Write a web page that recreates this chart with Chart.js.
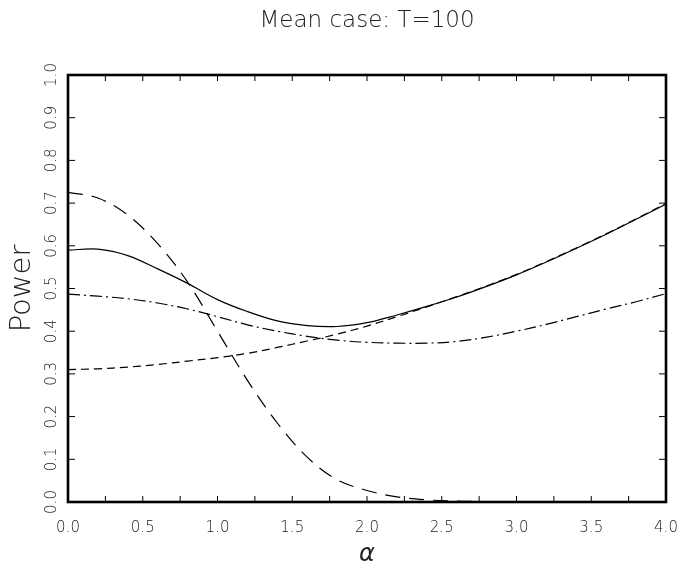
<!DOCTYPE html>
<html><head><meta charset="utf-8">
<script src="https://cdn.jsdelivr.net/npm/chart.js@4.4.1/dist/chart.umd.min.js"></script>
<style>html,body{margin:0;padding:0;background:#fff}#wrap{width:678px;height:575px}</style>
</head><body><div id="wrap"><canvas id="c" width="678" height="575"></canvas></div>
<script>
const chartTitle = 'Mean case: T=100';
const xAxisTitle = 'α';
const yAxisTitle = 'Power';
const alphaValues = [0.0,0.2,0.4,0.6,0.8,1.0,1.2,1.4,1.6,1.8,2.0,2.2,2.4,2.6,2.8,3.0,3.2,3.4,3.6,3.8,4.0];
const solidPower = [0.590,0.592,0.577,0.546,0.512,0.474,0.446,0.424,0.413,0.411,0.420,0.438,0.458,0.480,0.505,0.532,0.562,0.594,0.627,0.662,0.698];
const shortDashPower = [0.310,0.312,0.316,0.322,0.330,0.338,0.348,0.362,0.377,0.393,0.412,0.434,0.457,0.481,0.506,0.533,0.563,0.595,0.628,0.663,0.699];
const dashDotPower = [0.487,0.482,0.476,0.466,0.452,0.434,0.415,0.400,0.388,0.379,0.374,0.372,0.372,0.376,0.386,0.400,0.416,0.434,0.452,0.469,0.488];
const longDashPower = [0.725,0.712,0.672,0.605,0.515,0.400,0.285,0.185,0.105,0.052,0.027,0.012,0.005,0.002,0.001,0.0,0.0,0.0,0.0,0.0,0.0];
const xLabelledTicks = [0.0,0.5,1.0,1.5,2.0,2.5,3.0,3.5,4.0];

const FONT = "'DejaVu Sans', sans-serif";
const TEXT = '#222';

function series(vals){ return alphaValues.map((a,i)=>({x:a,y:vals[i]})); }
function ds(vals, dash){
  return {data: series(vals), borderColor:'#000', borderWidth:1.2, borderDash:dash,
    pointRadius:0, fill:false, tension:0.35};
}

const framePlugin = {
  id:'frame',
  afterDraw(chart){
    const ctx = chart.ctx, a = chart.chartArea, xs = chart.scales.x, ys = chart.scales.y;
    ctx.save();
    ctx.strokeStyle = '#000';
    ctx.lineWidth = 1;
    ctx.beginPath();
    ys.ticks.forEach(t=>{
      const py = ys.getPixelForValue(t.value);
      ctx.moveTo(a.left, py); ctx.lineTo(a.left+7, py);
      ctx.moveTo(a.right-7, py); ctx.lineTo(a.right, py);
    });
    xs.ticks.forEach(t=>{
      const px = xs.getPixelForValue(t.value);
      ctx.moveTo(px, a.bottom); ctx.lineTo(px, a.bottom-6);
      ctx.moveTo(px, a.top); ctx.lineTo(px, a.top+6);
    });
    ctx.stroke();
    ctx.lineWidth = 2.6;
    ctx.strokeRect(a.left, a.top, a.right-a.left, a.bottom-a.top);
    ctx.fillStyle = TEXT;
    ctx.font = '300 15px ' + FONT;
    ctx.textAlign = 'center'; ctx.textBaseline = 'middle';
    ys.ticks.forEach(t=>{
      const py = ys.getPixelForValue(t.value);
      ctx.save(); ctx.translate(52, py); ctx.rotate(-Math.PI/2);
      ctx.fillText(t.value.toFixed(1), 0, 0); ctx.restore();
    });
    ctx.font = '200 29px ' + FONT;
    ctx.save(); ctx.translate(22, (a.top+a.bottom)/2); ctx.rotate(-Math.PI/2);
    ctx.fillText(yAxisTitle, 0, 0); ctx.restore();
    ctx.font = '200 23px ' + FONT;
    ctx.fillText(chartTitle, (a.left+a.right)/2, 21);
    ctx.restore();
  }
};

new Chart(document.getElementById('c'), {
  type:'line',
  data:{datasets:[ds(solidPower,[]), ds(longDashPower,[15,9]), ds(shortDashPower,[8,5]), ds(dashDotPower,[12,4,2,4])]},
  options:{
    responsive:false, devicePixelRatio:1, animation:false,
    layout:{padding:{top:75,right:12,left:0,bottom:0}},
    plugins:{legend:{display:false}, tooltip:{enabled:false}, title:{display:false}},
    scales:{
      x:{type:'linear', min:0, max:4,
        grid:{display:false}, border:{display:false},
        afterFit(s){ s.height = 73; s.paddingRight = 0; s.paddingLeft = 0; },
        ticks:{stepSize:0.25, autoSkip:false, maxRotation:0, minRotation:0, padding:9, color:TEXT,
          font:{family:FONT, size:15, weight:'300'},
          callback:(v)=> xLabelledTicks.some(t=>Math.abs(t-v)<1e-9) ? Number(v).toFixed(1) : ''},
        title:{display:true, text:xAxisTitle, color:TEXT, font:{family:FONT, size:24, style:'italic', weight:'200'}, padding:{top:0,bottom:6}}
      },
      y:{min:0, max:1,
        grid:{display:false}, border:{display:false},
        afterFit(s){ s.width = 68; },
        ticks:{stepSize:0.1, display:false}
      }
    }
  },
  plugins:[framePlugin]
});
</script></body></html>
